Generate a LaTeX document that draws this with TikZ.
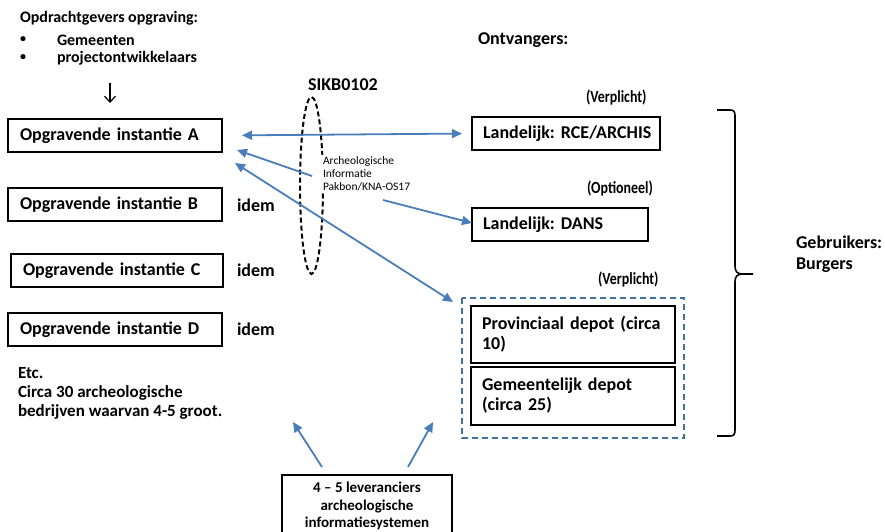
\documentclass[tikz,border=0pt]{standalone}
\usepackage{fontspec}
\usepackage{graphicx}
\setmainfont{Carlito}
\frenchspacing
\usetikzlibrary{arrows.meta,shapes.geometric}
\definecolor{arrblue}{HTML}{4A7EBB}
\definecolor{dashblue}{HTML}{41719C}
\begin{document}
\begin{tikzpicture}[x=1pt,y=-1pt,
  every node/.style={inner sep=0pt, outer sep=0pt},
  lbl/.style={font=\bfseries\fontsize{18}{21}\selectfont, anchor=west},
  lblsm/.style={font=\bfseries\fontsize{16}{19}\selectfont, anchor=west},
  tag/.style={font=\bfseries\fontsize{17}{18}\selectfont, anchor=west},
  boxo/.style={draw=black, line width=1.4pt, fill=white, anchor=north west, align=left,
     font=\bfseries\fontsize{18}{20}\selectfont, inner xsep=5pt},
  barrow/.style={draw=arrblue, line width=1.8pt, -{Triangle[length=10pt,width=9pt]}},
  barrow2/.style={draw=arrblue, line width=1.8pt, {Triangle[length=10pt,width=9pt]}-{Triangle[length=10pt,width=9pt]}}
]
\useasboundingbox (0,0) rectangle (885,532);
% top left
\node[lblsm] (opd) at (20,18) {Opdrachtgevers opgraving:};
\node[font=\bfseries\fontsize{12}{14}\selectfont, anchor=west] (b1) at (20,40) {•};
\node[lblsm] (gem) at (57,40) {Gemeenten};
\node[font=\bfseries\fontsize{12}{14}\selectfont, anchor=west] (b2) at (20,58) {•};
\node[lblsm] (proj) at (57,58) {projectontwikkelaars};
\coordinate (dt) at (110,83);
\coordinate (db) at (110,103);
\draw[line width=1.2pt, -{Straight Barb[length=6pt,width=11pt]}] (dt) -- (db);
% left boxes
\node[boxo, minimum height=33pt, text width=204pt] (A) at (8,119) {\hspace*{7pt}Opgravende instantie A};
\node[boxo, minimum height=33pt, text width=204pt] (B) at (8,188) {\hspace*{7pt}Opgravende instantie B};
\node[boxo, minimum height=33pt, text width=202pt] (C) at (11,254) {\hspace*{7pt}Opgravende instantie C};
\node[boxo, minimum height=33pt, text width=204pt] (D) at (8,313) {\hspace*{7pt}Opgravende instantie D};
\node[lbl] (iB) at (237,205) {idem};
\node[lbl] (iC) at (237,270) {idem};
\node[lbl] (iD) at (237,329) {idem};
\node[font=\bfseries\fontsize{17}{19}\selectfont, anchor=north west, align=left] (etc) at (18,367)
  {Etc.\\Circa 30 archeologische\\bedrijven waarvan 4-5 groot.};
% middle
\node[lbl] (ont) at (478,40) {Ontvangers:};
\node[lbl] (sikb) at (308,85) {SIKB0102};
\draw[black, line width=2pt, dash pattern=on 5pt off 3pt] (311.5,185.5) ellipse [x radius=11.5, y radius=88.5];
\node[fill=white, anchor=west, align=left, font=\fontsize{11.5}{13}\selectfont, inner sep=2pt] (info) at (321,174)
  {Archeologische\\Informatie\\Pakbon/KNA-OS17};
% right boxes
\node[tag] (v1) at (586,98) {\scalebox{0.82}[1]{(Verplicht)}};
\node[boxo, minimum height=33pt, text width=178pt] (rce) at (472,117) {\hspace*{6pt}Landelijk: RCE/ARCHIS};
\node[tag] (opt) at (587,189) {\scalebox{0.82}[1]{(Optioneel)}};
\node[boxo, minimum height=33pt, text width=166pt] (dans) at (472,208) {\hspace*{6pt}Landelijk: DANS};
\node[tag] (v2) at (598,280) {\scalebox{0.82}[1]{(Verplicht)}};
\draw[dashblue, line width=1.5pt, dash pattern=on 6pt off 4pt] (462,298) rectangle (684,438);
\node[boxo, minimum height=57pt, text width=194pt] (prov) at (471,306) {\hspace*{6pt}Provinciaal depot (circa\\\hspace*{6pt}10)};
\node[boxo, minimum height=58pt, text width=194pt] (gmd) at (471,367) {\hspace*{6pt}Gemeentelijk depot\\\hspace*{6pt}(circa 25)};
% brace
\draw[black, line width=1.6pt] (717,110) -- (730,110) .. controls (734,110) and (735,112) .. (735,116)
  -- (735,266) .. controls (735,271) and (737,274) .. (742,274) -- (753,274)
  (742,274) .. controls (737,274) and (735,277) .. (735,282) -- (735,430)
  .. controls (735,434) and (734,436) .. (730,436) -- (717,436);
\node[lbl, align=left] (geb) at (796,254) {Gebruikers:\\Burgers};
% bottom box
\node[draw=black, line width=1.4pt, fill=white, align=center, minimum width=170pt, minimum height=62pt,
  font=\bfseries\fontsize{15}{17.5}\selectfont] (lev) at (367,506)
  {4 – 5 leveranciers\\archeologische\\informatiesystemen};
% arrows
\coordinate (aA1) at (237,150);
\coordinate (aA2) at (235,163);
\coordinate (ll) at (322,467);
\coordinate (lt) at (293,422);
\coordinate (rl) at (408,467);
\coordinate (rt) at (433,422);
\coordinate (gs) at (453,302);
\coordinate (is) at (312,176);
\coordinate (ds) at (383,200);
\draw[barrow2, shorten <=20pt, shorten >=10pt] (A.east) -- (rce.west);
\draw[barrow] (is) -- (aA1);
\draw[barrow] (ds) -- (dans.west |- 0,223) ;
\draw[barrow2] (aA2) -- (gs);
\draw[barrow] (ll) -- (lt);
\draw[barrow] (rl) -- (rt);
\end{tikzpicture}
\end{document}
